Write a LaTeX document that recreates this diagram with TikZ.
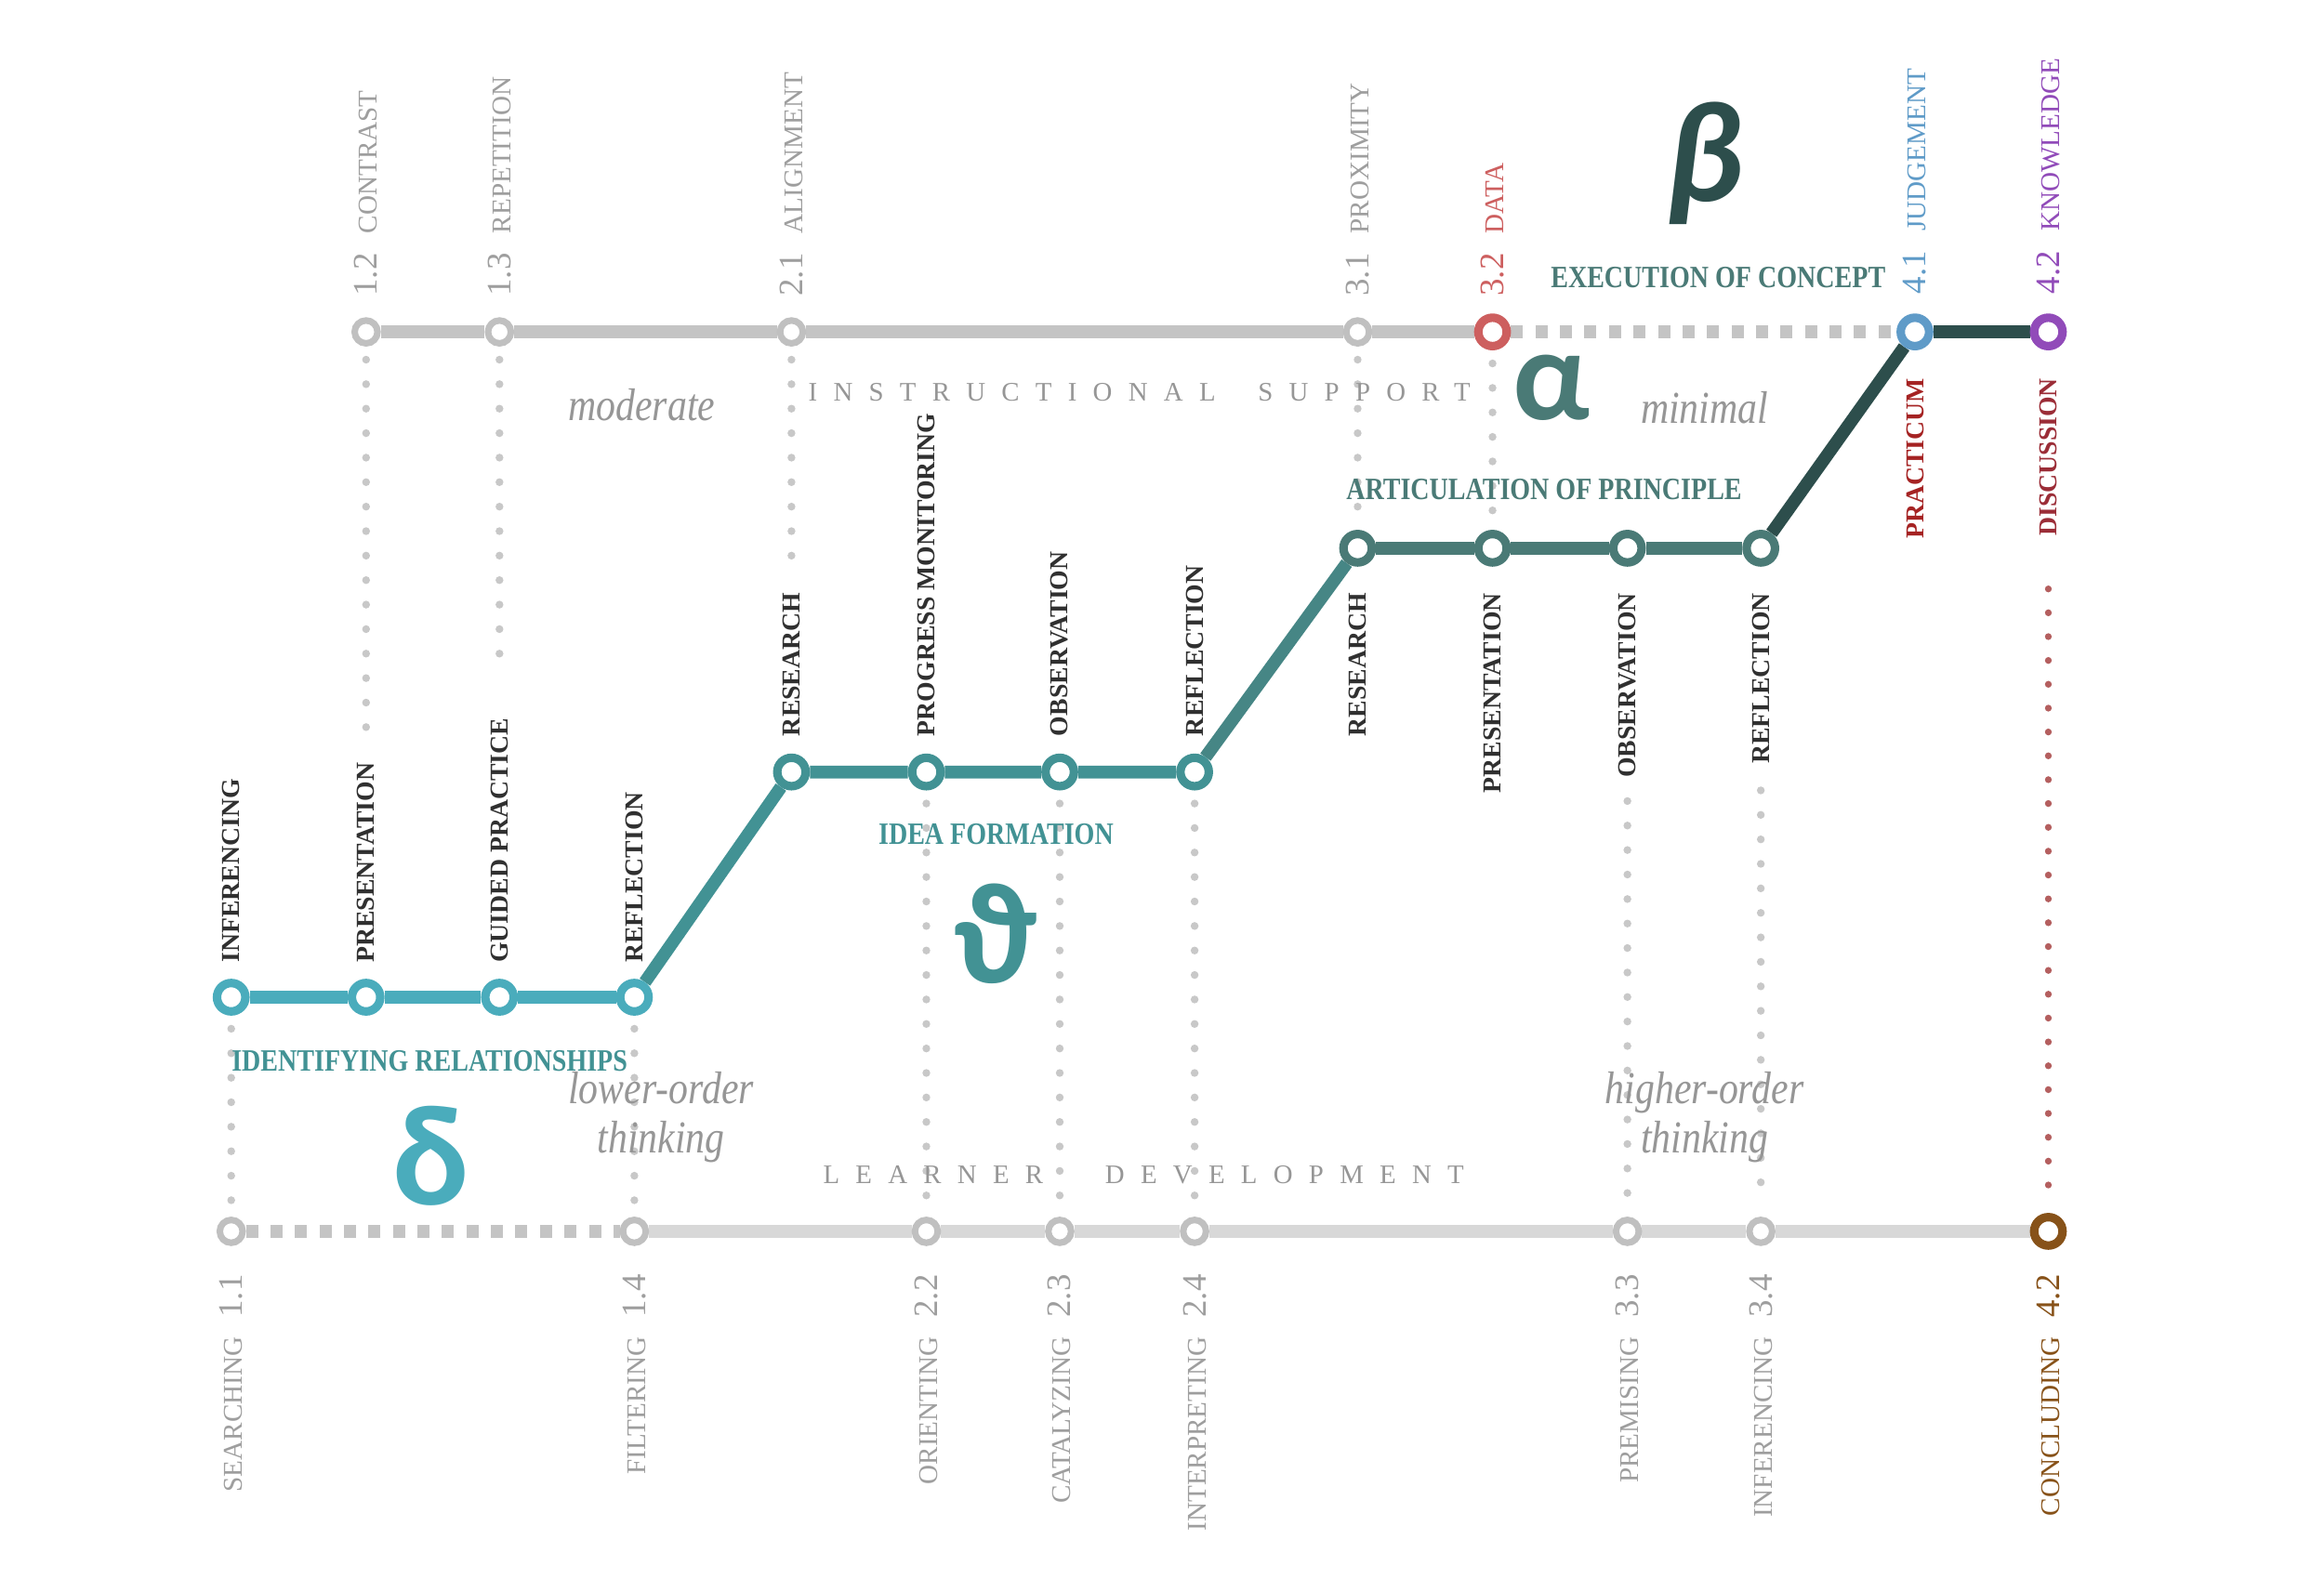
\documentclass[tikz,border=0pt]{standalone}
\usepackage{fontspec}
\setmainfont{Liberation Serif}
\newfontfamily\greekfont{Carlito}
\usepackage{xcolor}
\usepackage{tikz}
\usetikzlibrary{positioning,backgrounds}
\definecolor{railgrey}{RGB}{196,196,196}
\definecolor{lowgrey}{RGB}{216,216,216}
\definecolor{stngrey}{RGB}{192,192,192}
\definecolor{dotgrey}{RGB}{200,200,200}
\definecolor{cuegrey}{RGB}{158,158,158}
\definecolor{moodgrey}{RGB}{150,150,150}
\definecolor{inkdark}{RGB}{48,48,48}
\definecolor{tealone}{RGB}{74,172,188}
\definecolor{tealtwo}{RGB}{66,146,148}
\definecolor{tealthree}{RGB}{74,122,118}
\definecolor{tealdark}{RGB}{45,78,76}
\definecolor{datared}{RGB}{205,95,95}
\definecolor{judgeblue}{RGB}{95,155,200}
\definecolor{knowpurple}{RGB}{145,75,185}
\definecolor{pracred}{RGB}{165,35,35}
\definecolor{discred}{RGB}{155,45,55}
\definecolor{dotred}{RGB}{180,95,95}
\definecolor{conbrown}{RGB}{135,82,25}
\newcommand{\stno}[1]{{\fontsize{10.5}{10}\selectfont #1}}

\begin{document}
\begin{tikzpicture}[x=0.015944cm, y=-0.015944cm,
  stn/.style={circle,draw=stngrey,line width=2pt,fill=white,minimum size=7pt,inner sep=0pt},
  stnc/.style={circle,draw,line width=2.6pt,fill=white,minimum size=8.7pt,inner sep=0pt},
  rail/.style={line width=3.9pt},
  railgap/.style={line width=3.8pt,dash pattern=on 3.7pt off 3.8pt},
  dotline/.style={line width=2.4pt,line cap=round,dash pattern=on 0pt off 7.5pt,shorten <=4pt,shorten >=4pt},
  cue/.style={font=\fontsize{8.3}{9}\selectfont,rotate=90,inner sep=0pt,text=cuegrey},
  act/.style={font=\bfseries\fontsize{7.9}{9}\selectfont,rotate=90,inner sep=0pt,text=inkdark},
  phase/.style={font=\bfseries\fontsize{9.5}{10}\selectfont,xscale=0.84,inner sep=0pt},
  mood/.style={font=\itshape\fontsize{14}{15}\selectfont,xscale=0.85,align=center,inner sep=0pt,text=moodgrey},
  track/.style={font=\fontsize{8.2}{9}\selectfont\addfontfeature{LetterSpace=60},anchor=west,inner sep=0pt,text=moodgrey},
  glyph/.style={font=\greekfont\bfseries\fontsize{44}{44}\selectfont,inner sep=0pt}]
  \useasboundingbox (0,0) rectangle (1568,1065);

  % instructional support line
  \node[stn] (t12) at (247,224) {};
  \node[stn] (t13) at (337,224) {};
  \node[stn] (t21) at (534,224) {};
  \node[stn] (t31) at (916,224) {};
  \node[stnc,draw=datared] (t32) at (1007,224) {};
  \node[stnc,draw=judgeblue] (t41) at (1292,224) {};
  \node[stnc,draw=knowpurple] (t42) at (1382,224) {};

  % learner development line
  \node[stn] (b11) at (156,831) {};
  \node[stn] (b14) at (428,831) {};
  \node[stn] (b22) at (625,831) {};
  \node[stn] (b23) at (715,831) {};
  \node[stn] (b24) at (806,831) {};
  \node[stn] (b33) at (1098,831) {};
  \node[stn] (b34) at (1188,831) {};
  \node[stnc,draw=conbrown] (b42) at (1382,831) {};

  % activity stations
  \node[stnc,draw=tealone] (p1a) at (156,673) {};
  \node[stnc,draw=tealone] (p1b) at (247,673) {};
  \node[stnc,draw=tealone] (p1c) at (337,673) {};
  \node[stnc,draw=tealone] (p1d) at (428,673) {};
  \node[stnc,draw=tealtwo] (p2a) at (534,521) {};
  \node[stnc,draw=tealtwo] (p2b) at (625,521) {};
  \node[stnc,draw=tealtwo] (p2c) at (715,521) {};
  \node[stnc,draw=tealtwo] (p2d) at (806,521) {};
  \node[stnc,draw=tealthree] (p3a) at (916,370) {};
  \node[stnc,draw=tealthree] (p3b) at (1007,370) {};
  \node[stnc,draw=tealthree] (p3c) at (1098,370) {};
  \node[stnc,draw=tealthree] (p3d) at (1188,370) {};

  % top labels
  \node[cue,anchor=west] (l12) at ([yshift=10.8pt]t12.center) {\stno{1.2}\hspace{6pt}CONTRAST};
  \node[cue,anchor=west] (l13) at ([yshift=10.8pt]t13.center) {\stno{1.3}\hspace{6pt}REPETITION};
  \node[cue,anchor=west] (l21) at ([yshift=10.8pt]t21.center) {\stno{2.1}\hspace{6pt}ALIGNMENT};
  \node[cue,anchor=west] (l31) at ([yshift=10.8pt]t31.center) {\stno{3.1}\hspace{6pt}PROXIMITY};
  \node[cue,anchor=west,text=datared] (l32) at ([yshift=10.8pt]t32.center) {\stno{3.2}\hspace{6pt}DATA};
  \node[cue,anchor=west,text=judgeblue] (l41) at ([yshift=11.5pt]t41.center) {\stno{4.1}\hspace{6pt}JUDGEMENT};
  \node[cue,anchor=west,text=knowpurple] (l42) at ([yshift=11.5pt]t42.center) {\stno{4.2}\hspace{6pt}KNOWLEDGE};
  \node[act,anchor=east,text=pracred] (a4c) at ([yshift=-14pt]t41.center) {PRACTICUM};
  \node[act,anchor=east,text=discred] (a4d) at ([yshift=-14pt]t42.center) {DISCUSSION};

  % bottom labels
  \node[cue,anchor=east] (l11) at ([yshift=-13pt]b11.center) {SEARCHING\hspace{6pt}\stno{1.1}};
  \node[cue,anchor=east] (l14) at ([yshift=-13pt]b14.center) {FILTERING\hspace{6pt}\stno{1.4}};
  \node[cue,anchor=east] (l22) at ([yshift=-13pt]b22.center) {ORIENTING\hspace{6pt}\stno{2.2}};
  \node[cue,anchor=east] (l23) at ([yshift=-13pt]b23.center) {CATALYZING\hspace{6pt}\stno{2.3}};
  \node[cue,anchor=east] (l24) at ([yshift=-13pt]b24.center) {INTERPRETING\hspace{6pt}\stno{2.4}};
  \node[cue,anchor=east] (l33) at ([yshift=-13pt]b33.center) {PREMISING\hspace{6pt}\stno{3.3}};
  \node[cue,anchor=east] (l34) at ([yshift=-13pt]b34.center) {INFERENCING\hspace{6pt}\stno{3.4}};
  \node[cue,anchor=east,text=conbrown] (l42b) at ([yshift=-13pt]b42.center) {CONCLUDING\hspace{6pt}\stno{4.2}};

  % activity labels
  \node[act,anchor=west] (a1a) at ([yshift=10.4pt]p1a.center) {INFERENCING};
  \node[act,anchor=west] (a1b) at ([yshift=10.4pt]p1b.center) {PRESENTATION};
  \node[act,anchor=west] (a1c) at ([yshift=10.4pt]p1c.center) {GUIDED PRACTICE};
  \node[act,anchor=west] (a1d) at ([yshift=10.4pt]p1d.center) {REFLECTION};
  \node[act,anchor=west] (a2a) at ([yshift=10.8pt]p2a.center) {RESEARCH};
  \node[act,anchor=west] (a2b) at ([yshift=10.8pt]p2b.center) {PROGRESS MONITORING};
  \node[act,anchor=west] (a2c) at ([yshift=10.8pt]p2c.center) {OBSERVATION};
  \node[act,anchor=west] (a2d) at ([yshift=10.8pt]p2d.center) {REFLECTION};
  \node[act,anchor=east] (a3a) at ([yshift=-13.5pt]p3a.center) {RESEARCH};
  \node[act,anchor=east] (a3b) at ([yshift=-13.5pt]p3b.center) {PRESENTATION};
  \node[act,anchor=east] (a3c) at ([yshift=-13.5pt]p3c.center) {OBSERVATION};
  \node[act,anchor=east] (a3d) at ([yshift=-13.5pt]p3d.center) {REFLECTION};

  % phases
  \node[phase,anchor=west,text=tealtwo] (ph1) at (156,716) {IDENTIFYING RELATIONSHIPS};
  \node[phase,text=tealtwo] (ph2) at (672,563) {IDEA FORMATION};
  \node[phase,anchor=west,text=tealthree] (ph3) at (908,330) {ARTICULATION OF PRINCIPLE};
  \node[phase,anchor=west,text=tealthree] (ph4) at (1046,187) {EXECUTION OF CONCEPT};
  \node[glyph,text=tealone] (gd) at (291,780) {δ};
  \node[glyph,text=tealtwo] (gt) at (672,630) {ϑ};
  \node[glyph,text=tealthree,font=\greekfont\bfseries\fontsize{40}{40}\selectfont] (ga) at (1047,262) {α};
  \node[glyph,text=tealdark,font=\greekfont\bfseries\itshape\fontsize{44}{44}\selectfont] (gb) at (1150,110) {β};

  % support and thinking
  \node[mood] (m1) at (433,273) {moderate};
  \node[mood] (m2) at (1150,275) {minimal};
  \node[mood] (m3) at (446,754) {lower-order\\thinking};
  \node[mood] (m4) at (1150,754) {higher-order\\thinking};
  \node[track] (s1) at (545,265) {INSTRUCTIONAL\hspace{13pt}SUPPORT};
  \node[track] (s2) at (555,793) {LEARNER\hspace{19pt}DEVELOPMENT};

  \begin{pgfonlayer}{background}
    \draw[dotline,dotgrey] (t12) -- (a1b.east);
    \draw[dotline,dotgrey,shorten >=13pt] (t13) -- (a1c.east);
    \draw[dotline,dotgrey,shorten >=11pt] (t21) -- (a2a.east);
    \draw[dotline,dotgrey] (t31) -- (p3a);
    \draw[dotline,dotgrey] (t32) -- (p3b);
    \draw[dotline,dotgrey] (p1a) -- (b11);
    \draw[dotline,dotgrey] (p1d) -- (b14);
    \draw[dotline,dotgrey] (p2b) -- (b22);
    \draw[dotline,dotgrey] (p2c) -- (b23);
    \draw[dotline,dotgrey] (p2d) -- (b24);
    \draw[dotline,dotgrey,shorten <=7pt] (a3c.west) -- (b33);
    \draw[dotline,dotgrey,shorten <=8pt] (a3d.west) -- (b34);
    \draw[dotline,dotred,line width=2.1pt,dash pattern=on 0pt off 7.3pt,shorten <=16pt] (a4d.west) -- (b42);
    \draw[rail,railgrey] (t12) -- (t13) -- (t21) -- (t31) -- (t32);
    \draw[railgap,railgrey] (t32) -- (t41);
    \draw[rail,tealdark] (t41) -- (t42);
    \draw[railgap,railgrey] (b11) -- (b14);
    \draw[rail,lowgrey] (b14) -- (b22) -- (b23) -- (b24) -- (b33) -- (b34) -- (b42);
    \draw[rail,tealone] (p1a) -- (p1b) -- (p1c) -- (p1d);
    \draw[rail,tealtwo] (p1d) -- (p2a) -- (p2b) -- (p2c) -- (p2d);
    \draw[rail,tealtwo!50!tealthree] (p2d) -- (p3a);
    \draw[rail,tealthree] (p3a) -- (p3b) -- (p3c) -- (p3d);
    \draw[rail,tealdark] (p3d) -- (t41);
  \end{pgfonlayer}
\end{tikzpicture}
\end{document}
